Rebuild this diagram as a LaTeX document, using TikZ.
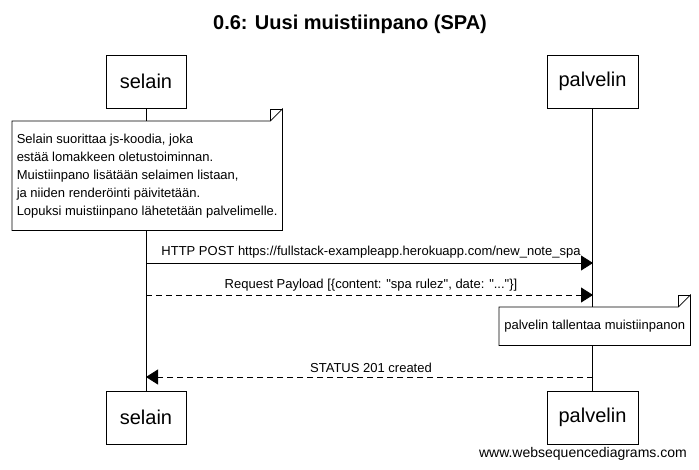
\documentclass[tikz,border=0pt]{standalone}
\usepackage{fontspec}
\setmainfont{Liberation Sans}
\newfontfamily\rawfont{Liberation Sans}
\usetikzlibrary{arrows.meta}
\begin{document}
\begin{tikzpicture}[x=1pt,y=-1pt,
  actor/.style={draw,line width=0.8pt,fill=white,minimum width=80,minimum height=53,inner sep=0,font=\fontsize{20}{24}\selectfont},
  notebox/.style={fill=white,inner sep=4,font=\fontsize{13}{18}\selectfont},
  msg/.style={font=\fontsize{13}{15}\selectfont,inner sep=1},
  life/.style={line width=0.8pt},
  arr/.style={line width=0.8pt,-{Triangle[length=12,width=15]}},
  dsh/.style={dash pattern=on 6 off 4}
]
\useasboundingbox (0,0) rectangle (699,469);
\node[font=\bfseries\fontsize{20}{24}\selectfont] (title) at (350,24) {0.6: Uusi muistiinpano (SPA)};
\node[actor] (s1) at (146,81.5) {selain};
\node[actor,minimum width=91] (p1) at (592.5,81.5) {palvelin};
\node[actor] (s2) at (146,417.5) {selain};
\node[actor,minimum width=91] (p2) at (592.5,417.5) {palvelin};
\draw[life] (s1.south) -- (s2.north);
\draw[life] (p1.south) -- (p2.north);
% note 1
\node[notebox,anchor=north west,minimum width=270,minimum height=109,align=left] (n1) at (12,121)
{Selain suorittaa js-koodia, joka\\estää lomakkeen oletustoiminnan.\\Muistiinpano lisätään selaimen listaan,\\ja niiden renderöinti päivitetään.\\Lopuksi muistiinpano lähetetään palvelimelle.};
\draw[line width=0.8pt] (n1.north west) -- ([xshift=-12]n1.north east) -- ([yshift=12]n1.north east) -- (n1.south east) -- (n1.south west) -- cycle;
\draw[line width=0.6pt] ([xshift=-12]n1.north east) -- ([xshift=-12,yshift=12]n1.north east) -- ([yshift=12]n1.north east);
% messages
\coordinate (m1s) at (146,263); \coordinate (m1p) at (593,263);
\coordinate (m2s) at (146,295); \coordinate (m2p) at (593,295);
\coordinate (m3s) at (146,377); \coordinate (m3p) at (593,377);
\draw[arr] (m1s) -- (m1p);
\node[msg] (l1) at (371,252) {HTTP POST https://fullstack-exampleapp.herokuapp.com/new\_note\_spa};
\draw[arr,dsh] (m2s) -- (m2p);
\node[msg] (l2) at (371,285) {\rawfont Request Payload [\{content: "spa rulez", date: "..."\}]};
% note 2
\node[notebox,anchor=north west,minimum width=191,minimum height=38] (n2) at (499,307) {palvelin tallentaa muistiinpanon};
\draw[line width=0.8pt] (n2.north west) -- ([xshift=-12]n2.north east) -- ([yshift=12]n2.north east) -- (n2.south east) -- (n2.south west) -- cycle;
\draw[line width=0.6pt] ([xshift=-12]n2.north east) -- ([xshift=-12,yshift=12]n2.north east) -- ([yshift=12]n2.north east);
\draw[arr,dsh] (m3p) -- (m3s);
\node[msg] (l3) at (371,368) {STATUS 201 created};
\node[msg,anchor=east,font=\fontsize{14}{16}\selectfont] (foot) at (688,454) {www.websequencediagrams.com};
\end{tikzpicture}
\end{document}
